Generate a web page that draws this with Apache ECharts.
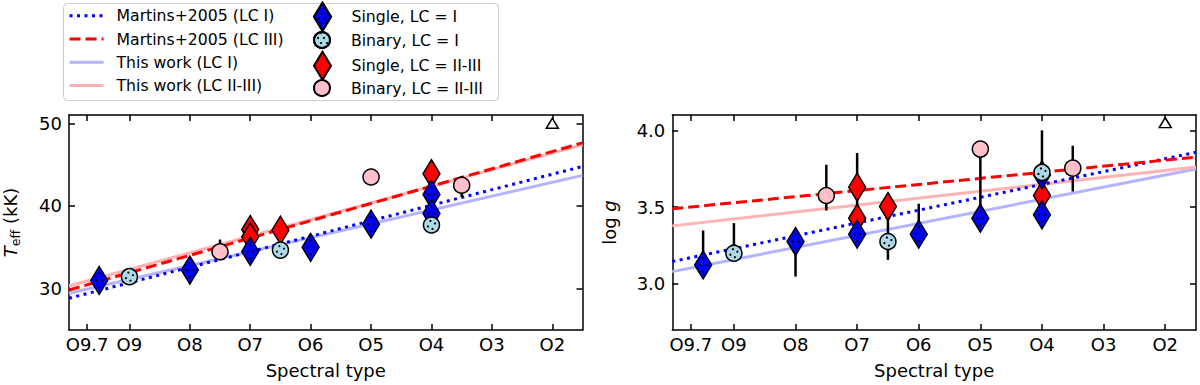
<!DOCTYPE html>
<html><head><meta charset="utf-8">
<script src="https://cdn.jsdelivr.net/npm/echarts@6/dist/echarts.min.js"></script>
<style>html,body{margin:0;padding:0;background:#fff}#c{width:1200px;height:385px}</style>
</head><body><div id="c"></div>
<script>
// ---- axis ticks (spectral subtype number, O9.7 -> 9.7) ----
const tickValues = [9.7, 9, 8, 7, 6, 5, 4, 3, 2];
const tickLabels = ['O9.7', 'O9', 'O8', 'O7', 'O6', 'O5', 'O4', 'O3', 'O2'];
const teffTicks = [30, 40, 50];
const loggTicks = [3.0, 3.5, 4.0];

// ---- Single, LC = I ----
const singleI_x    = [9.5, 8, 7, 6, 5, 4, 4];
const singleI_teff = [31.0, 32.25, 34.5, 35.0, 37.8, 41.4, 39.1];
const singleI_logg = [3.124, 3.276, 3.324, 3.324, 3.428, 3.45, 3.71];
// ---- Binary, LC = I ----
const binaryI_x    = [9, 6.5, 4];
const binaryI_teff = [31.45, 34.66, 37.7];
const binaryI_logg = [3.20, 3.276, 3.726];
// ---- Single, LC = II-III ----
const singleIII_x    = [7, 7, 6.5, 4];
const singleIII_teff = [37.15, 36.27, 37.07, 43.9];
const singleIII_logg = [3.63, 3.428, 3.504, 3.576];
// ---- Binary, LC = II-III ----
const binaryIII_x    = [7.5, 5, 3.5];
const binaryIII_teff = [34.46, 43.5, 42.5];
const binaryIII_logg = [3.576, 3.878, 3.754];
// ---- limit marker (O2) ----
const limit_x = [2];
const limit_teff = [50.0];
const limit_logg = [4.05];

// ---- error bars ----
const teffErr_x  = [7.5, 3.5];
const teffErr_lo = [34.0, 41.08];
const teffErr_hi = [35.94, 43.57];
const loggErr_x  = [9.5, 9, 8, 7.5, 7, 6.5, 6, 5, 4, 3.5];
const loggErr_lo = [3.08, 3.17, 3.048, 3.478, 3.50, 3.157, 3.25, 3.45, 3.66, 3.602];
const loggErr_hi = [3.348, 3.396, 3.30, 3.776, 3.852, 3.45, 3.522, 3.878, 4.0, 3.90];

// ---- calibration relations (evaluated at the axis ends) ----
const rel_x = [10, 1.5];
const martinsI_teff   = [28.84, 44.78];
const martinsIII_teff = [29.84, 47.63];
const thisI_teff      = [29.44, 43.70];
const thisIII_teff    = [30.32, 47.40];
const martinsI_logg   = [3.146, 3.857];
const martinsIII_logg = [3.489, 3.826];
const thisI_logg      = [3.080, 3.748];
const thisIII_logg    = [3.378, 3.761];

// ---------------------------------------------------------------
const FONT = 'DejaVu Sans';
const zip = (xs, ys) => xs.map((x, i) => [x, ys[i]]);
const zip3 = (xs, a, b) => xs.map((x, i) => [x, a[i], b[i]]);
const labelFor = v => { const i = tickValues.findIndex(t => Math.abs(t - v) < 1e-6); return i >= 0 ? tickLabels[i] : ''; };

// hatch-dot styling (pixel offsets inside a marker)
const DIAMOND_DOTS = [[0, -7], [-3, 0], [3, 0], [0, 7]];
const CIRCLE_DOTS = [[-1, -4], [3.5, -1.5], [-3.5, 1.5], [1, 4]];
const legendDots = { symbol: 'circle', symbolSize: 1, color: '#000', dashArrayX: [[2, 4], [0, 3, 2, 1]], dashArrayY: [2, 3], rotation: 0 };

function xAxes(grid) {
  const base = {
    type: 'value', gridIndex: grid, inverse: true, min: 1.5, max: 10,
    axisLine: { show: true, onZero: false, lineStyle: { color: '#000', width: 1.5 } },
    axisTick: { show: true, inside: true, length: 6, customValues: tickValues, lineStyle: { color: '#000', width: 1.5 } },
    splitLine: { show: false }
  };
  return [
    Object.assign({}, base, {
      position: 'bottom',
      axisLabel: { show: true, customValues: tickValues, formatter: labelFor, margin: 5, color: '#000', fontSize: 18, fontFamily: FONT },
      name: 'Spectral type', nameLocation: 'middle', nameGap: 31,
      nameTextStyle: { color: '#000', fontSize: 18, fontFamily: FONT }
    }),
    Object.assign({}, base, { position: 'top', axisLabel: { show: false } })
  ];
}
function yAxes(grid, min, max, ticks, fmt, name, gap, rich) {
  const base = {
    type: 'value', gridIndex: grid, min: min, max: max,
    axisLine: { show: true, onZero: false, lineStyle: { color: '#000', width: 1.5 } },
    axisTick: { show: true, inside: true, length: 6, customValues: ticks, lineStyle: { color: '#000', width: 1.5 } },
    splitLine: { show: false }
  };
  return [
    Object.assign({}, base, {
      position: 'left',
      axisLabel: { show: true, customValues: ticks, formatter: fmt, margin: 7, color: '#000', fontSize: 18, fontFamily: FONT },
      name: name, nameLocation: 'middle', nameGap: gap,
      nameTextStyle: { color: '#000', fontSize: 18, fontFamily: FONT, rich: rich }
    }),
    Object.assign({}, base, { position: 'right', axisLabel: { show: false } })
  ];
}

const xa = xAxes(0).concat(xAxes(1));
const ya = yAxes(0, 25, 51, teffTicks, v => String(Math.round(v)), '{i|T}{s|eff}{n| (kK)}', 47, {
  i: { fontStyle: 'italic', fontSize: 18, fontFamily: FONT, color: '#000', lineHeight: 24 },
  s: { fontSize: 12.6, fontFamily: FONT, color: '#000', lineHeight: 12.6, verticalAlign: 'bottom' },
  n: { fontSize: 18, fontFamily: FONT, color: '#000', lineHeight: 24 }
}).concat(yAxes(1, 2.7, 4.1, loggTicks, v => v.toFixed(1), '{n|log }{i|g}', 54, {
  i: { fontStyle: 'italic', fontSize: 18, fontFamily: FONT, color: '#000' },
  n: { fontSize: 18, fontFamily: FONT, color: '#000' }
}));

const series = [];
function relLine(name, ys, xi, yi, color, type, width, z) {
  series.push({
    name: name, type: 'line', xAxisIndex: xi, yAxisIndex: yi, data: zip(rel_x, ys),
    symbol: 'none', z: z, silent: true,
    lineStyle: { color: color, type: type, width: width }, itemStyle: { color: color }
  });
}
function errBars(xs, lo, hi, xi, yi) {
  series.push({
    type: 'custom', xAxisIndex: xi, yAxisIndex: yi, z: 3, silent: true,
    data: zip3(xs, lo, hi), encode: { x: 0, y: [1, 2] },
    renderItem: (params, api) => {
      const a = api.coord([api.value(0), api.value(1)]);
      const b = api.coord([api.value(0), api.value(2)]);
      return { type: 'line', shape: { x1: a[0], y1: a[1], x2: b[0], y2: b[1] }, style: { stroke: '#000', lineWidth: 2.5 } };
    }
  });
}
function pts(name, xs, ys, xi, yi, symbol, size, color, z) {
  series.push({
    name: name, type: 'scatter', xAxisIndex: xi, yAxisIndex: yi, data: zip(xs, ys),
    symbol: symbol, symbolSize: size, z: z,
    itemStyle: { color: color, borderColor: '#000', borderWidth: 1.5, opacity: 1 }
  });
}
function dotOverlay(xs, ys, xi, yi, offsets, z) {
  series.push({
    type: 'custom', xAxisIndex: xi, yAxisIndex: yi, z: z, silent: true,
    data: zip(xs, ys), encode: { x: 0, y: 1 },
    renderItem: (params, api) => {
      const c = api.coord([api.value(0), api.value(1)]);
      return { type: 'group', children: offsets.map(o => ({
        type: 'circle', shape: { cx: c[0] + o[0], cy: c[1] + o[1], r: 1.1 }, style: { fill: '#000' } })) };
    }
  });
}

const DIAMOND = [17, 28], CIRCLE = 16;
[[0, 0, [martinsI_teff, martinsIII_teff, thisI_teff, thisIII_teff]],
 [2, 2, [martinsI_logg, martinsIII_logg, thisI_logg, thisIII_logg]]].forEach(([xi, yi, r]) => {
  relLine('Martins+2005 (LC I)', r[0], xi, yi, '#0000ff', [3, 4.5], 3, 2);
  relLine('Martins+2005 (LC III)', r[1], xi, yi, '#ff0000', [11, 5], 3, 2);
  relLine('This work (LC I)', r[2], xi, yi, '#b3b3ff', 'solid', 3, 1);
  relLine('This work (LC II-III)', r[3], xi, yi, '#ffb3b3', 'solid', 3, 1);
});
errBars(teffErr_x, teffErr_lo, teffErr_hi, 0, 0);
errBars(loggErr_x, loggErr_lo, loggErr_hi, 2, 2);

[[0, 0, singleIII_teff, binaryIII_teff, singleI_teff, binaryI_teff, limit_teff],
 [2, 2, singleIII_logg, binaryIII_logg, singleI_logg, binaryI_logg, limit_logg]].forEach(([xi, yi, sIII, bIII, sI, bI, lim]) => {
  pts('Single, LC = II-III', singleIII_x, sIII, xi, yi, 'diamond', DIAMOND, '#ff0000', 4);
  pts('Binary, LC = II-III', binaryIII_x, bIII, xi, yi, 'circle', CIRCLE, '#ffc0cb', 4);
  pts('Single, LC = I', singleI_x, sI, xi, yi, 'diamond', DIAMOND, '#0000ff', 5);
  dotOverlay(singleI_x, sI, xi, yi, DIAMOND_DOTS, 6);
  pts('Binary, LC = I', binaryI_x, bI, xi, yi, 'circle', CIRCLE, '#add8e6', 7);
  dotOverlay(binaryI_x, bI, xi, yi, CIRCLE_DOTS, 8);
  pts('limit', limit_x, lim, xi, yi, 'triangle', [12, 10], '#ffffff', 9);
});

const DPATH = 'path://M8.5,0 L17,14 L8.5,28 L0,14 Z';
const legTxt = pad => ({ fontSize: 15.7, fontFamily: FONT, color: '#000', lineHeight: 16, padding: [0, 0, 0, pad] });
const option = {
  animation: false,
  backgroundColor: '#fff',
  grid: [
    { left: 61, top: 115, width: 521.5, height: 215 },
    { left: 672.3, top: 115, width: 523.7, height: 215 }
  ],
  xAxis: xa,
  yAxis: ya,
  legend: [
    { orient: 'vertical', left: 68, top: 7.7, padding: 0, itemWidth: 34, itemHeight: 16, itemGap: 7.3,
      selectedMode: false, lineStyle: { width: 3 },
      itemStyle: { color: 'rgba(0,0,0,0)', borderColor: 'rgba(0,0,0,0)', borderWidth: 0, opacity: 0 },
      textStyle: legTxt(8),
      data: ['Martins+2005 (LC I)', 'Martins+2005 (LC III)', 'This work (LC I)', 'This work (LC II-III)'] },
    { orient: 'vertical', left: 313, top: 1.7, padding: 0, itemWidth: 34, itemHeight: 28, itemGap: 19,
      selectedMode: false, textStyle: legTxt(7),
      data: [{ name: 'Single, LC = I', icon: DPATH, itemStyle: { decal: legendDots } },
             { name: 'Single, LC = II-III', icon: DPATH }] },
    { orient: 'vertical', left: 313, top: 31, padding: 0, itemWidth: 34, itemHeight: 16, itemGap: 30,
      selectedMode: false, textStyle: legTxt(7),
      data: [{ name: 'Binary, LC = I', icon: 'circle', itemStyle: { decal: legendDots } },
             { name: 'Binary, LC = II-III', icon: 'circle' }] }
  ],
  graphic: [{ type: 'rect', left: 63, top: 3, z: 0, silent: true,
    shape: { width: 435, height: 97, r: 4 }, style: { fill: 'rgba(255,255,255,0.8)', stroke: '#cccccc', lineWidth: 1 } }],
  series: series
};
const chart = echarts.init(document.getElementById('c'), null, { renderer: 'svg' });
chart.setOption(option);
</script></body></html>
